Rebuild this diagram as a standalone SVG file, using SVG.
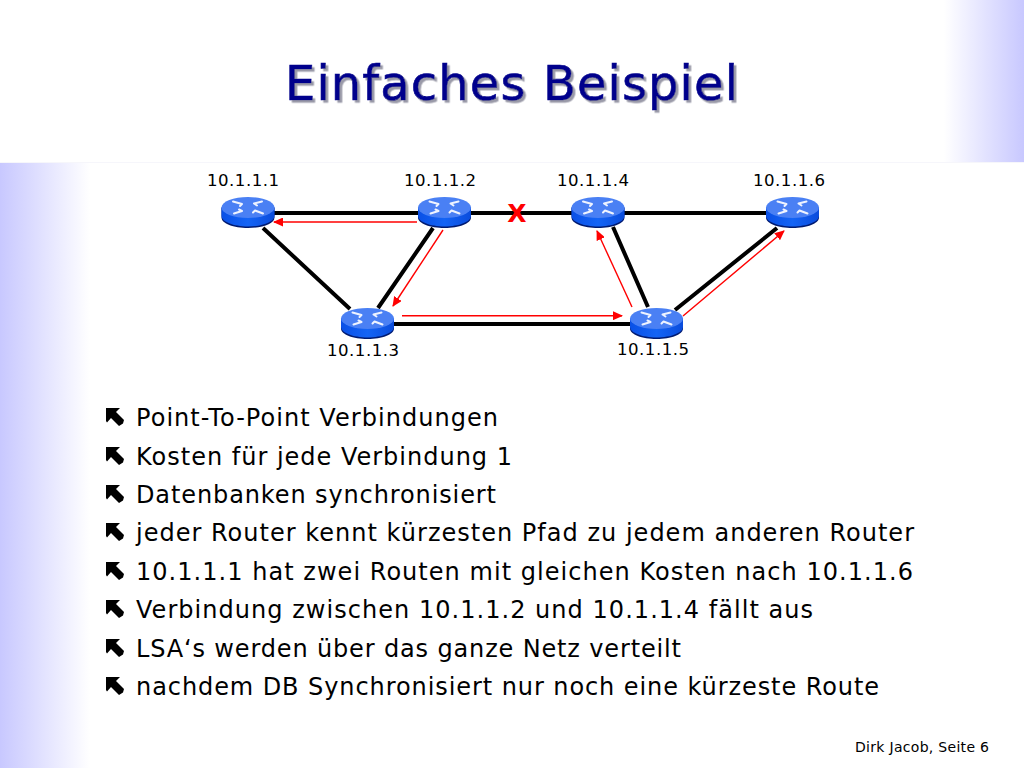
<svg xmlns="http://www.w3.org/2000/svg" width="1024" height="768" viewBox="0 0 1024 768">
<style>
text{font-family:"DejaVu Sans","Liberation Sans",sans-serif;fill:#000}
.lbl{font-size:16.6px;text-anchor:middle}
.b{font-size:24px}
.link{stroke:#000;stroke-width:4;fill:none}
.red{stroke:#f00;stroke-width:1.4;fill:none;marker-end:url(#ah)}
</style>
<defs>
<linearGradient id="gr" x1="0" x2="1" y1="0" y2="0"><stop offset="0" stop-color="#fff"/><stop offset="1" stop-color="#c8c8ff"/></linearGradient>
<linearGradient id="gl" x1="0" x2="1" y1="0" y2="0"><stop offset="0" stop-color="#c8c8ff"/><stop offset="1" stop-color="#fff"/></linearGradient>
<linearGradient id="body" x1="0" x2="1" y1="0" y2="0"><stop offset="0" stop-color="#0a50e6"/><stop offset="0.5" stop-color="#1464f5"/><stop offset="1" stop-color="#0a4cdc"/></linearGradient>
<filter id="sh" x="-5%" y="-20%" width="110%" height="140%"><feDropShadow dx="2.500" dy="2.500" stdDeviation="0.500" flood-color="#9a9aa8"/></filter>
<marker id="ah" markerUnits="userSpaceOnUse" markerWidth="10" markerHeight="9" refX="9" refY="4.5" orient="auto"><path d="M0,0L10,4.5L0,9Z" fill="#f00"/></marker>
<g id="router">
<path d="M-26.500,0V10C-26.500,16-14.600,20.500,0,20.500S26.500,16,26.500,10V0Z" fill="#001a70"/>
<path d="M-26.500,0V8.300C-26.500,14.300-14.600,19,0,19S26.500,14.300,26.500,8.300V0Z" fill="url(#body)"/>
<ellipse cx="0" cy="0" rx="26.500" ry="10.500" fill="#4a80f4"/>
<g fill="none" stroke="#eef3ff" stroke-width="2" stroke-linecap="round">
<path d="M-15,-6L-6,-3.500M-8,-1.500L-6,-3.500"/>
<path d="M14,-6L6,-4M9,-2L6,-4"/>
<path d="M-14,6L-6,3.500M-9,2L-6,3.500"/>
<path d="M15,6L7,3M5,5L7,3"/>
</g>
</g>
<path id="bu" d="M0,0H14L10,4L18,12L17,15.500L13,18L5,10L1,14.500L0,13Z" fill="#000"/>
</defs>
<rect width="1024" height="768" fill="#fff"/>
<rect x="944" y="0" width="80" height="162" fill="url(#gr)"/>
<rect x="0" y="163" width="90" height="605" fill="url(#gl)"/>
<rect x="0" y="162" width="1024" height="1" fill="#f6f6fb"/>
<text x="285" y="100" textLength="453" filter="url(#sh)" style="font-size:48px;fill:#00008c;stroke:#00008c;stroke-width:0.6">Einfaches Beispiel</text>
<g id="connectors">
<path class="link" d="M248,213H444M444,213H598M598,213H793M263,228L350,309M433,228L378,308M394,324H632M613,227L648,307M675,310L777,228"/>
<path class="red" d="M417,222H274"/>
<path class="red" d="M443,230L393,306"/>
<path class="red" d="M402,315.700H622"/>
<path class="red" d="M632,307L597,231"/>
<path class="red" d="M683,316L784,231"/>
</g>
<g id="r1"><use href="#router" x="248" y="207.500"/><text class="lbl" x="243" y="186" textLength="72">10.1.1.1</text></g>
<g id="r2"><use href="#router" x="444.500" y="207.500"/><text class="lbl" x="440" y="186" textLength="72">10.1.1.2</text></g>
<g id="r3"><use href="#router" x="367.500" y="318.500"/><text class="lbl" x="363" y="356" textLength="72">10.1.1.3</text></g>
<g id="r4"><use href="#router" x="598" y="207.500"/><text class="lbl" x="593" y="186" textLength="72">10.1.1.4</text></g>
<g id="r5"><use href="#router" x="656.500" y="318.500"/><text class="lbl" x="653" y="355" textLength="72">10.1.1.5</text></g>
<g id="r6"><use href="#router" x="792.500" y="207.500"/><text class="lbl" x="789" y="186" textLength="72">10.1.1.6</text></g>
<text x="517" y="222" text-anchor="middle" style="font-size:25px;font-weight:bold;fill:#f00">X</text>
<g id="bullets">
<use href="#bu" x="106" y="408"/><text class="b" x="136" y="426" textLength="362">Point-To-Point Verbindungen</text>
<use href="#bu" x="106" y="447"/><text class="b" x="136" y="465" textLength="376">Kosten für jede Verbindung 1</text>
<use href="#bu" x="106" y="485"/><text class="b" x="136" y="503" textLength="360">Datenbanken synchronisiert</text>
<use href="#bu" x="106" y="523"/><text class="b" x="136" y="541" textLength="778">jeder Router kennt kürzesten Pfad zu jedem anderen Router</text>
<use href="#bu" x="106" y="562"/><text class="b" x="136" y="580" textLength="777">10.1.1.1 hat zwei Routen mit gleichen Kosten nach 10.1.1.6</text>
<use href="#bu" x="106" y="600"/><text class="b" x="136" y="618" textLength="677">Verbindung zwischen 10.1.1.2 und 10.1.1.4 fällt aus</text>
<use href="#bu" x="106" y="639"/><text class="b" x="136" y="657" textLength="545">LSA‘s werden über das ganze Netz verteilt</text>
<use href="#bu" x="106" y="677"/><text class="b" x="136" y="695" textLength="743">nachdem DB Synchronisiert nur noch eine kürzeste Route</text>
</g>
<text x="855" y="752" textLength="134" style="font-size:14px">Dirk Jacob, Seite 6</text>
</svg>
